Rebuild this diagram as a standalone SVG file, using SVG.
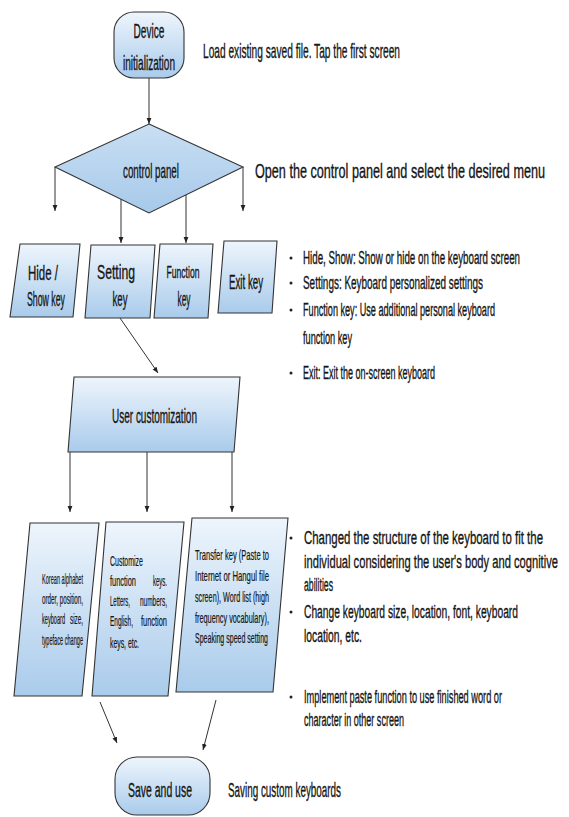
<svg xmlns="http://www.w3.org/2000/svg" width="569" height="817" viewBox="0 0 569 817">
<style>
text{font-family:"Liberation Sans",Arial,sans-serif;fill:#151515;stroke:#151515;stroke-width:0.18;}
.big{font-size:10px;}
.mid{font-size:9px;}
.low{font-size:9.5px;}
.fn{font-size:8.5px;}
.sm{font-size:7px;stroke-width:0.1;}
.node{fill:url(#g);stroke:#333;stroke-width:1.1;}
.dia{fill:url(#gd);stroke:#333;stroke-width:1.1;}
.conn line{stroke:#333;stroke-width:1;marker-end:url(#ah);}
.dot{fill:#222;}
</style>
<defs>
<linearGradient id="g" x1="0" y1="0" x2="0" y2="1">
<stop offset="0" stop-color="#eef5fc"/>
<stop offset="1" stop-color="#a9cbeb"/>
</linearGradient>
<linearGradient id="gd" x1="0" y1="0" x2="0" y2="1">
<stop offset="0" stop-color="#c9dff3"/>
<stop offset="1" stop-color="#a7c9ea"/>
</linearGradient>
<marker id="ah" viewBox="0 0 10 10" refX="10" refY="5" markerWidth="6" markerHeight="6" orient="auto" markerUnits="userSpaceOnUse">
<path d="M0,1 L10,5 L0,9 z" fill="#222"/>
</marker>
</defs>
<rect width="569" height="817" fill="#fff"/>

<g id="connectors" class="conn">
<line x1="149" y1="78" x2="149" y2="124"/>
<line x1="55" y1="167" x2="55" y2="211"/>
<line x1="243" y1="167" x2="243" y2="211"/>
<line x1="121" y1="199" x2="121" y2="243"/>
<line x1="186" y1="195" x2="186" y2="243"/>
<line x1="120" y1="318" x2="158" y2="373"/>
<line x1="70" y1="452" x2="70" y2="512"/>
<line x1="147" y1="452" x2="147" y2="512"/>
<line x1="232" y1="452" x2="232" y2="512"/>
<line x1="100" y1="702" x2="117" y2="743"/>
<line x1="216" y1="700" x2="203" y2="750"/>
</g>

<g id="device-init">
<rect class="node" x="114" y="12" width="70" height="66" rx="20" ry="20"/>
<text class="big" transform="scale(1,2)" x="149" y="19" text-anchor="middle" textLength="31" lengthAdjust="spacingAndGlyphs">Device</text>
<text class="big" transform="scale(1,2)" x="149" y="35" text-anchor="middle" textLength="52" lengthAdjust="spacingAndGlyphs">initialization</text>
</g>
<g id="note-device">
<text class="big" transform="scale(1,2)" x="203" y="29" textLength="197" lengthAdjust="spacingAndGlyphs">Load existing saved file. Tap the first screen</text>
</g>

<g id="control-panel">
<polygon class="dia" points="149,124 243,167 149,213 55,167"/>
<text class="big" transform="scale(1,2)" x="151" y="89" text-anchor="middle" textLength="56" lengthAdjust="spacingAndGlyphs">control panel</text>
</g>
<g id="note-panel">
<text class="big" transform="scale(1,2)" x="255" y="89" textLength="290" lengthAdjust="spacingAndGlyphs">Open the control panel and select the desired menu</text>
</g>

<g id="hide-show">
<polygon class="node" points="20,244 80,244 73,317 10,317"/>
<text class="big" transform="scale(1,2)" x="43" y="140" text-anchor="middle" textLength="30" lengthAdjust="spacingAndGlyphs">Hide /</text>
<text class="big" transform="scale(1,2)" x="46" y="153" text-anchor="middle" textLength="38" lengthAdjust="spacingAndGlyphs">Show key</text>
</g>
<g id="setting-key">
<polygon class="node" points="91,245 155,245 150,318 85,318"/>
<text class="big" transform="scale(1,2)" x="116" y="139.5" text-anchor="middle" textLength="38" lengthAdjust="spacingAndGlyphs">Setting</text>
<text class="big" transform="scale(1,2)" x="120" y="153" text-anchor="middle" textLength="15" lengthAdjust="spacingAndGlyphs">key</text>
</g>
<g id="function-key">
<polygon class="node" points="160,244 213,244 208,318 154,318"/>
<text class="fn" transform="scale(1,2)" x="183" y="139" text-anchor="middle" textLength="33" lengthAdjust="spacingAndGlyphs">Function</text>
<text class="big" transform="scale(1,2)" x="184" y="153" text-anchor="middle" textLength="13" lengthAdjust="spacingAndGlyphs">key</text>
</g>
<g id="exit-key">
<polygon class="node" points="224,241 277,241 272,313 218,313"/>
<text class="big" transform="scale(1,2)" x="246" y="144.5" text-anchor="middle" textLength="34" lengthAdjust="spacingAndGlyphs">Exit key</text>
</g>

<g id="notes-1">
<circle class="dot" cx="291" cy="258" r="1.5"/>
<text class="mid" transform="scale(1,2)" x="303" y="132" textLength="217" lengthAdjust="spacingAndGlyphs">Hide, Show: Show or hide on the keyboard screen</text>
<circle class="dot" cx="291" cy="283" r="1.5"/>
<text class="mid" transform="scale(1,2)" x="303" y="144.5" textLength="180" lengthAdjust="spacingAndGlyphs">Settings: Keyboard personalized settings</text>
<circle class="dot" cx="291" cy="310" r="1.5"/>
<text class="mid" transform="scale(1,2)" x="303" y="158" textLength="192" lengthAdjust="spacingAndGlyphs">Function key: Use additional personal keyboard</text>
<text class="mid" transform="scale(1,2)" x="303" y="172" textLength="49" lengthAdjust="spacingAndGlyphs">function key</text>
<circle class="dot" cx="291" cy="373" r="1.5"/>
<text class="mid" transform="scale(1,2)" x="303" y="189.5" textLength="132" lengthAdjust="spacingAndGlyphs">Exit: Exit the on-screen keyboard</text>
</g>

<g id="user-customization">
<polygon class="node" points="74,377 240,377 234,452 68,452"/>
<text class="big" transform="scale(1,2)" x="112" y="211.5" textLength="85" lengthAdjust="spacingAndGlyphs">User customization</text>
</g>

<g id="box-korean">
<polygon class="node" points="30,523 99,523 82,696 14,696"/>
<text class="sm" transform="scale(1,2)" x="42" y="292" textLength="41" lengthAdjust="spacingAndGlyphs">Korean alphabet</text>
<text class="sm" transform="scale(1,2)" x="42" y="302" textLength="41" lengthAdjust="spacingAndGlyphs">order, position,</text>
<text class="sm" transform="scale(1,2)" x="42" y="312" textLength="23" lengthAdjust="spacingAndGlyphs">keyboard</text>
<text class="sm" transform="scale(1,2)" x="83" y="312" text-anchor="end" textLength="13" lengthAdjust="spacingAndGlyphs">size,</text>
<text class="sm" transform="scale(1,2)" x="42" y="322.5" textLength="41" lengthAdjust="spacingAndGlyphs">typeface change</text>
</g>
<g id="box-function">
<polygon class="node" points="106,522 184,522 168,696 92,696"/>
<text class="sm" transform="scale(1,2)" x="110" y="283" textLength="33" lengthAdjust="spacingAndGlyphs">Customize</text>
<text class="sm" transform="scale(1,2)" x="110" y="293" textLength="26" lengthAdjust="spacingAndGlyphs">function</text>
<text class="sm" transform="scale(1,2)" x="167" y="293" text-anchor="end" textLength="14" lengthAdjust="spacingAndGlyphs">keys.</text>
<text class="sm" transform="scale(1,2)" x="110" y="303" textLength="20" lengthAdjust="spacingAndGlyphs">Letters,</text>
<text class="sm" transform="scale(1,2)" x="167" y="303" text-anchor="end" textLength="27" lengthAdjust="spacingAndGlyphs">numbers,</text>
<text class="sm" transform="scale(1,2)" x="110" y="313" textLength="23" lengthAdjust="spacingAndGlyphs">English,</text>
<text class="sm" transform="scale(1,2)" x="167" y="313" text-anchor="end" textLength="26" lengthAdjust="spacingAndGlyphs">function</text>
<text class="sm" transform="scale(1,2)" x="110" y="324" textLength="29" lengthAdjust="spacingAndGlyphs">keys, etc.</text>
</g>
<g id="box-transfer">
<polygon class="node" points="192,518 288,518 273,692 176,692"/>
<text class="sm" transform="scale(1,2)" x="195" y="280" textLength="74" lengthAdjust="spacingAndGlyphs">Transfer key (Paste to</text>
<text class="sm" transform="scale(1,2)" x="195" y="290.5" textLength="74" lengthAdjust="spacingAndGlyphs">Internet or Hangul file</text>
<text class="sm" transform="scale(1,2)" x="195" y="301" textLength="74" lengthAdjust="spacingAndGlyphs">screen), Word list (high</text>
<text class="sm" transform="scale(1,2)" x="195" y="311.5" textLength="74" lengthAdjust="spacingAndGlyphs">frequency vocabulary),</text>
<text class="sm" transform="scale(1,2)" x="195" y="321.5" textLength="73" lengthAdjust="spacingAndGlyphs">Speaking speed setting</text>
</g>

<g id="notes-2">
<circle class="dot" cx="291" cy="538" r="1.5"/>
<text class="low" transform="scale(1,2)" x="304" y="272" textLength="239" lengthAdjust="spacingAndGlyphs">Changed the structure of the keyboard to fit the</text>
<text class="low" transform="scale(1,2)" x="304" y="284" textLength="254" lengthAdjust="spacingAndGlyphs">individual considering the user's body and cognitive</text>
<text class="low" transform="scale(1,2)" x="304" y="295.5" textLength="29" lengthAdjust="spacingAndGlyphs">abilities</text>
<circle class="dot" cx="291" cy="612" r="1.5"/>
<text class="low" transform="scale(1,2)" x="304" y="309" textLength="214" lengthAdjust="spacingAndGlyphs">Change keyboard size, location, font, keyboard</text>
<text class="low" transform="scale(1,2)" x="304" y="321" textLength="58" lengthAdjust="spacingAndGlyphs">location, etc.</text>
<circle class="dot" cx="291" cy="697" r="1.5"/>
<text class="low" transform="scale(1,2)" x="304" y="351.5" textLength="198" lengthAdjust="spacingAndGlyphs">Implement paste function to use finished word or</text>
<text class="low" transform="scale(1,2)" x="304" y="363" textLength="100" lengthAdjust="spacingAndGlyphs">character in other screen</text>
</g>

<g id="save-use">
<rect class="node" x="115" y="757" width="95" height="58" rx="22" ry="22"/>
<text class="big" transform="scale(1,2)" x="128" y="398.5" textLength="64" lengthAdjust="spacingAndGlyphs">Save and use</text>
</g>
<g id="note-save">
<text class="big" transform="scale(1,2)" x="228" y="398.5" textLength="113" lengthAdjust="spacingAndGlyphs">Saving custom keyboards</text>
</g>
</svg>
